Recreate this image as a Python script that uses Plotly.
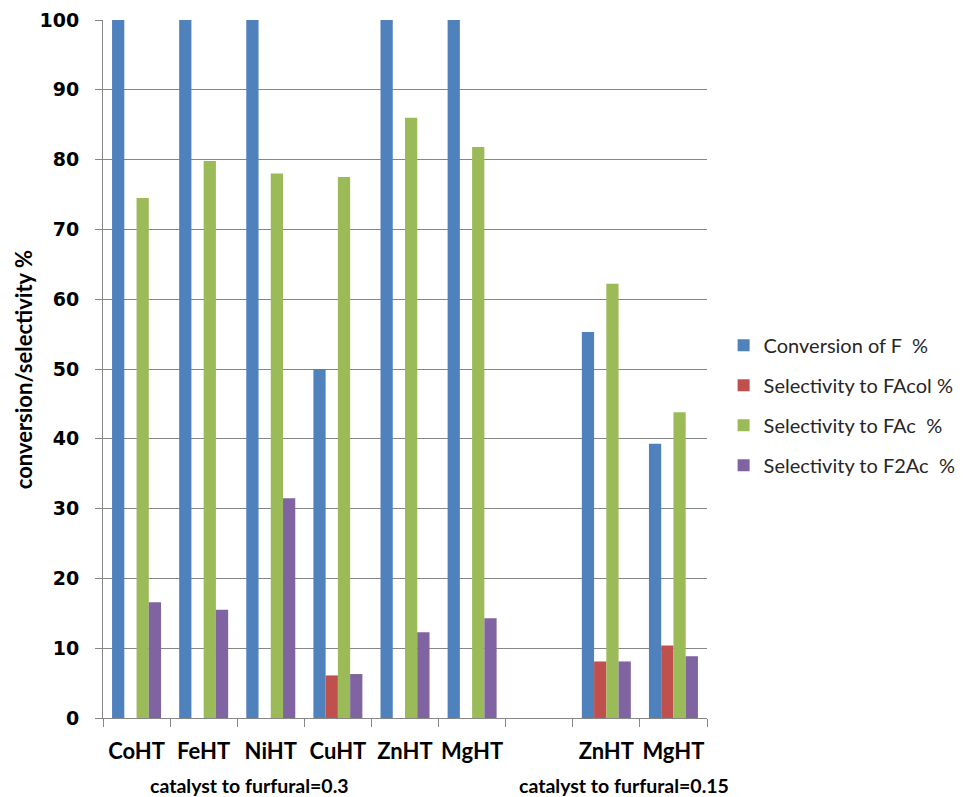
import plotly.graph_objects as go

# Catalysts: six at catalyst/furfural = 0.3, a blank slot, then two at 0.15
catalysts = ["CoHT", "FeHT", "NiHT", "CuHT", "ZnHT", "MgHT", "ZnHT", "MgHT"]
positions = [0, 1, 2, 3, 4, 5, 7, 8]

conversion_f = [100, 100, 100, 50.0, 100, 100, 55.3, 39.3]
select_facol = [0, 0, 0, 6.1, 0, 0, 8.1, 10.4]
select_fac = [74.5, 79.8, 78.0, 77.5, 86.0, 81.8, 62.2, 43.8]
select_f2ac = [16.6, 15.5, 31.5, 6.3, 12.3, 14.3, 8.1, 8.85]

series_names = ["Conversion of F  %", "Selectivity to FAcol %",
                "Selectivity to FAc  %", "Selectivity to F2Ac  %"]
series_values = [conversion_f, select_facol, select_fac, select_f2ac]
colors = ["#4F81BD", "#C0504D", "#9BBB59", "#8064A2"]

group_labels = ["catalyst to furfural=0.3", "catalyst to furfural=0.15"]

FONT = "Lato"
GRID = "#878787"

fig = go.Figure()
for i, (name, vals, col) in enumerate(zip(series_names, series_values, colors)):
    fig.add_trace(go.Bar(
        x=positions, y=vals, name=name, legendgroup=str(i), offsetgroup=str(i),
        marker=dict(color=col, line=dict(width=0)),
    ))

fig.update_layout(
    width=963, height=797,
    margin=dict(l=103, r=255.5, t=19.5, b=78.5, autoexpand=False),
    paper_bgcolor="white", plot_bgcolor="white",
    barmode="group", bargap=0.27, bargroupgap=0,
    font=dict(family=FONT, color="black"),
    legend=dict(
        x=1.0275, y=0.562, xanchor="left", yanchor="top",
        font=dict(family=FONT, size=20, color="#262626"),
        tracegroupgap=11, itemwidth=30, bgcolor="rgba(0,0,0,0)",
    ),
    xaxis=dict(
        range=[-0.5, 8.5], tickmode="array", tickvals=positions, ticktext=catalysts,
        ticks="", showgrid=False, zeroline=False, automargin=False,
        showline=True, linecolor=GRID, linewidth=1,
        tickfont=dict(family=FONT, size=22, color="black", weight="bold"),
        ticklabelstandoff=14,
        minor=dict(tickmode="array", tickvals=[p - 0.5 for p in range(10)],
                   ticks="outside", ticklen=8, tickcolor=GRID, tickwidth=1, showgrid=False),
    ),
    yaxis=dict(
        range=[0, 100], tickmode="linear", tick0=0, dtick=10,
        showgrid=True, gridcolor=GRID, gridwidth=1, zeroline=False, automargin=False,
        showline=True, linecolor=GRID, linewidth=1,
        ticks="outside", ticklen=7, tickcolor=GRID,
        tickfont=dict(family="DejaVu Sans", size=19, color="black", weight="bold"),
        ticklabelstandoff=12,
    ),
    annotations=[
        dict(text="conversion/selectivity %", textangle=-90, xref="paper", yref="paper",
             x=-0.1315, y=0.499, xanchor="center", yanchor="middle", showarrow=False,
             font=dict(family=FONT, size=22, color="black", weight="bold")),
        dict(text=group_labels[0], xref="paper", yref="paper", x=0.2432, y=-0.097,
             xanchor="center", yanchor="middle", showarrow=False,
             font=dict(family=FONT, size=19.5, color="black", weight="bold")),
        dict(text=group_labels[1], xref="paper", yref="paper", x=0.862, y=-0.097,
             xanchor="center", yanchor="middle", showarrow=False,
             font=dict(family=FONT, size=19.5, color="black", weight="bold")),
    ],
)

fig.write_html("out.html")
